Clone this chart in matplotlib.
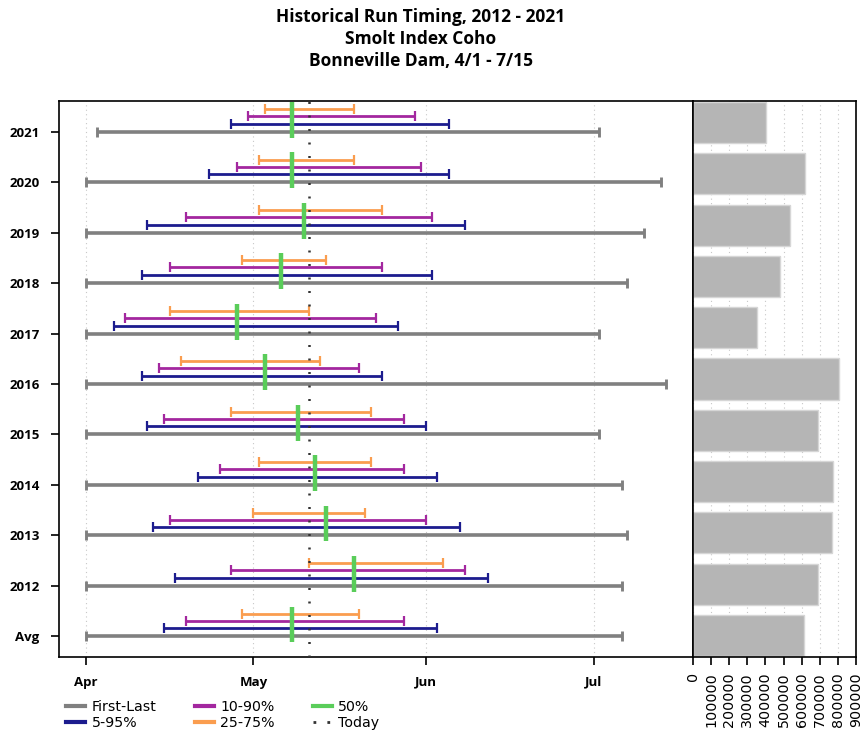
import matplotlib.pyplot as plt
import pandas as pd
from matplotlib.lines import Line2D

# run timing per year, as month-day of the season (Apr 1 - Jul 15)
years = ["2021", "2020", "2019", "2018", "2017", "2016", "2015", "2014", "2013", "2012", "Avg"]
first = ["04-03", "04-01", "04-01", "04-01", "04-01", "04-01", "04-01", "04-01", "04-01", "04-01", "04-01"]
last = ["07-02", "07-13", "07-10", "07-07", "07-02", "07-14", "07-02", "07-06", "07-07", "07-06", "07-06"]
p5 = ["04-27", "04-23", "04-12", "04-11", "04-06", "04-11", "04-12", "04-21", "04-13", "04-17", "04-15"]
p95 = ["06-05", "06-05", "06-08", "06-02", "05-27", "05-24", "06-01", "06-03", "06-07", "06-12", "06-03"]
p10 = ["04-30", "04-28", "04-19", "04-16", "04-08", "04-14", "04-15", "04-25", "04-16", "04-27", "04-19"]
p90 = ["05-30", "05-31", "06-02", "05-24", "05-23", "05-20", "05-28", "05-28", "06-01", "06-08", "05-28"]
p25 = ["05-03", "05-02", "05-02", "04-29", "04-16", "04-18", "04-27", "05-02", "05-01", "05-11", "04-29"]
p75 = ["05-19", "05-19", "05-24", "05-14", "05-11", "05-13", "05-22", "05-22", "05-21", "06-04", "05-20"]
p50 = ["05-08", "05-08", "05-10", "05-06", "04-28", "05-03", "05-09", "05-12", "05-14", "05-19", "05-08"]
today = "05-11"
totals = [402000, 618000, 537000, 478000, 356000, 804000, 692000, 773000, 769000, 690000, 613000]

month_ticks = ["04-01", "05-01", "06-01", "07-01"]
month_labels = ["Apr", "May", "Jun", "Jul"]


def to_day(md):
    # days since Apr 1
    if isinstance(md, str):
        md = [md]
    d = pd.to_datetime(["2021-" + s for s in md]) - pd.Timestamp("2021-04-01")
    return d.days.to_numpy()


colors = {
    "First-Last": "#808080",
    "5-95%": "#1c1c8e",
    "10-90%": "#a3279f",
    "25-75%": "#fa9d4f",
    "50%": "#5acd5a",
}

W, H = 867, 741
fig = plt.figure(figsize=(W / 100, H / 100), dpi=100)
ax = fig.add_axes([59 / W, 1 - 657 / H, (693 - 59) / W, (657 - 101) / H])
axb = fig.add_axes([693 / W, 1 - 657 / H, (856 - 693) / W, (657 - 101) / H])

n = len(years)
ypos = [n - 1 - i for i in range(n)]

ranges = [
    ("First-Last", first, last, 0.0, 2.6),
    ("5-95%", p5, p95, 0.16, 2.0),
    ("10-90%", p10, p90, 0.31, 2.0),
    ("25-75%", p25, p75, 0.45, 2.0),
]
for name, lo, hi, off, lw in ranges:
    lo_d = to_day(lo)
    hi_d = to_day(hi)
    mid = (lo_d + hi_d) / 2
    half = (hi_d - lo_d) / 2
    ax.errorbar(mid, [y + off for y in ypos], xerr=half, fmt="none",
                ecolor=colors[name], elinewidth=lw, capsize=3.4, capthick=lw * 0.8,
                zorder=3)

med = to_day(p50)
ax.vlines(med, [y - 0.12 for y in ypos], [y + 0.59 for y in ypos],
          color=colors["50%"], lw=3.2, zorder=4)

ax.axvline(to_day(today)[0], color="#333333", lw=1.8, ls=(0, (0.8, 4.6)), zorder=5)

ax.set_xlim(-4.84, 108.8)
ax.set_ylim(-0.41, n - 1 + 0.61)
ax.set_xticks(to_day(month_ticks))
ax.set_xticklabels(month_labels, fontfamily="Open Sans", fontweight="bold", fontsize=9.5)
ax.set_yticks(ypos)
ax.set_yticklabels(years, fontfamily="Open Sans", fontweight="bold", fontsize=9.5)
ax.tick_params(axis="x", length=6, width=1.2, pad=7.5)
ax.tick_params(axis="y", length=6, width=1.2, pad=8)
ax.grid(axis="x", ls=(0, (1, 3)), color="#c8c8c8", lw=0.8)
ax.set_axisbelow(True)
for s in ax.spines.values():
    s.set_linewidth(1.2)

# total passage bars
axb.barh(ypos, totals, height=0.8, color="#b5b5b5", edgecolor="#d6d6d6", lw=1, zorder=2)
axb.set_xlim(0, 900000)
axb.set_ylim(-0.42, n - 1 + 0.42)
axb.set_yticks([])
axb.set_xticks(range(0, 900001, 100000))
axb.set_xticklabels([str(v) for v in range(0, 900001, 100000)], rotation=90,
                    fontfamily="DejaVu Sans", fontsize=10.3)
axb.tick_params(axis="x", length=6, width=1.2, pad=5)
axb.grid(axis="x", ls=(0, (1, 3)), color="#c8c8c8", lw=0.8)
axb.set_axisbelow(True)
for s in axb.spines.values():
    s.set_linewidth(1.2)

fig.text(421 / W, 1 - 8 / H,
         "Historical Run Timing, 2012 - 2021\nSmolt Index Coho\nBonneville Dam, 4/1 - 7/15",
         ha="center", va="top", fontfamily="Open Sans", fontweight="bold", fontsize=12.5,
         linespacing=1.3)

handles = [
    Line2D([], [], color=colors["First-Last"], lw=3),
    Line2D([], [], color=colors["5-95%"], lw=3),
    Line2D([], [], color=colors["10-90%"], lw=3),
    Line2D([], [], color=colors["25-75%"], lw=3),
    Line2D([], [], color=colors["50%"], lw=3),
    Line2D([], [], color="#333333", lw=2, ls=(0, (1, 4))),
]
labels = ["First-Last", "5-95%", "10-90%", "25-75%", "50%", "Today"]
fig.legend(handles, labels, ncol=3, loc="upper left", bbox_to_anchor=(66 / W, 1 - 700 / H),
           frameon=False, prop={"family": "DejaVu Sans", "size": 10.2},
           handlelength=1.35, handletextpad=0.45, columnspacing=2.7,
           labelspacing=0.12, borderpad=0, borderaxespad=0)

fig.savefig("out.png", dpi=100)
